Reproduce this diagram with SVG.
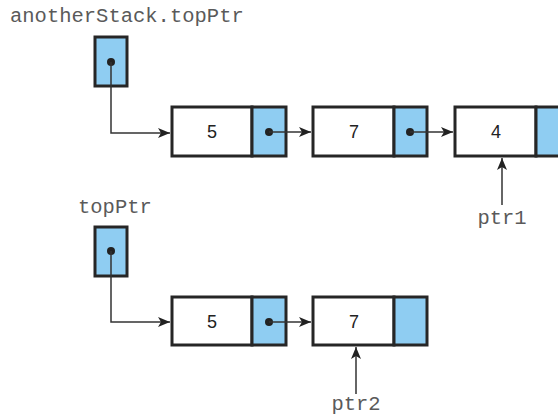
<svg xmlns="http://www.w3.org/2000/svg" width="558" height="416" viewBox="0 0 558 416">
<style>
.cell{stroke:#262626;stroke-width:3}
.data{fill:#fff}
.ptr{fill:#8fcdf2}
.val{font-family:"Liberation Sans",Arial,sans-serif;font-size:18px;fill:#222;text-anchor:middle}
.lbl{font-family:"Liberation Mono","Courier New",monospace;font-size:20.5px;fill:#5a5a5a}
.con{fill:none;stroke:#333;stroke-width:1.5}
.dot{fill:#222}
</style>
<defs>
<marker id="ah" viewBox="0 0 12 10" refX="12" refY="5" markerWidth="12" markerHeight="10" markerUnits="userSpaceOnUse" orient="auto">
<path d="M0,0 L12,5 L0,10 L3,5 Z" fill="#222"/>
</marker>
</defs>
<rect width="558" height="416" fill="#fff"/>
<g id="anotherStackTop">
<text class="lbl" x="10" y="22">anotherStack.topPtr</text>
<rect class="cell ptr" x="95" y="37" width="32" height="49"/>
<circle class="dot" cx="111" cy="62" r="4"/>
</g>
<g id="a1">
<rect class="cell data" x="172" y="107" width="80" height="49"/>
<rect class="cell ptr" x="252" y="107" width="34" height="49"/>
<text class="val" x="212" y="138">5</text>
<circle class="dot" cx="269" cy="132" r="4"/>
</g>
<g id="a2">
<rect class="cell data" x="313" y="107" width="81" height="49"/>
<rect class="cell ptr" x="394" y="107" width="33" height="49"/>
<text class="val" x="354" y="138">7</text>
<circle class="dot" cx="410" cy="132" r="4"/>
</g>
<g id="a3">
<rect class="cell data" x="455" y="107" width="81" height="49"/>
<rect class="cell ptr" x="536" y="107" width="34" height="49"/>
<text class="val" x="496" y="138">4</text>
</g>
<g id="ptr1">
<text class="lbl" x="502" y="224" text-anchor="middle">ptr1</text>
</g>
<g id="topPtr">
<text class="lbl" x="78" y="213">topPtr</text>
<rect class="cell ptr" x="95" y="227" width="32" height="49"/>
<circle class="dot" cx="111" cy="251" r="4"/>
</g>
<g id="b1">
<rect class="cell data" x="172" y="297" width="80" height="48"/>
<rect class="cell ptr" x="252" y="297" width="34" height="48"/>
<text class="val" x="212" y="328">5</text>
<circle class="dot" cx="269" cy="322" r="4"/>
</g>
<g id="b2">
<rect class="cell data" x="313" y="297" width="81" height="48"/>
<rect class="cell ptr" x="394" y="297" width="33" height="48"/>
<text class="val" x="354" y="328">7</text>
</g>
<g id="ptr2">
<text class="lbl" x="356" y="410" text-anchor="middle">ptr2</text>
</g>
<g id="connectors">
<path class="con" d="M111,62 V133 H170" marker-end="url(#ah)"/>
<path class="con" d="M269,132 H311" marker-end="url(#ah)"/>
<path class="con" d="M410,132 H453" marker-end="url(#ah)"/>
<path class="con" d="M502,205 V158" marker-end="url(#ah)"/>
<path class="con" d="M111,251 V322 H170" marker-end="url(#ah)"/>
<path class="con" d="M269,322 H311" marker-end="url(#ah)"/>
<path class="con" d="M356,394 V347" marker-end="url(#ah)"/>
</g>
</svg>
